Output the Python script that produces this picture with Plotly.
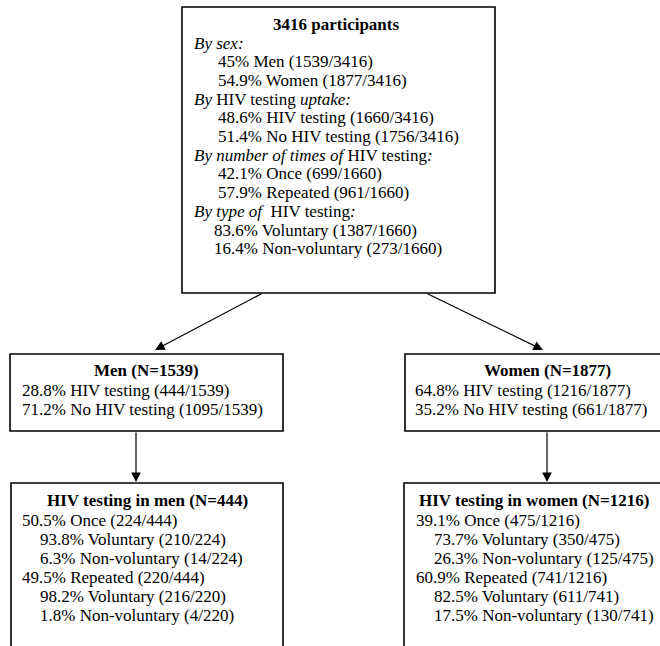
import plotly.graph_objects as go

W, H = 660, 646
FONT = "Liberation Serif"
FS = 17

# ---- data (text of the flow chart) ----
top_title = "3416 participants"
top_lines = [
    ("<i>By sex:</i>", 0),
    ("45% Men (1539/3416)", 1),
    ("54.9% Women (1877/3416)", 1),
    ("<i>By</i> HIV testing <i>uptake:</i>", 0),
    ("48.6% HIV testing (1660/3416)", 1),
    ("51.4% No HIV testing (1756/3416)", 1),
    ("<i>By number of times of</i> HIV testing<i>:</i>", 0),
    ("42.1% Once (699/1660)", 1),
    ("57.9% Repeated (961/1660)", 1),
    ("<i>By type of</i>  HIV testing<i>:</i>", 0),
    ("83.6% Voluntary (1387/1660)", 2),
    ("16.4% Non-voluntary (273/1660)", 2),
]
men_title = "Men (N=1539)"
men_lines = ["28.8% HIV testing (444/1539)", "71.2% No HIV testing (1095/1539)"]
women_title = "Women (N=1877)"
women_lines = ["64.8% HIV testing (1216/1877)", "35.2% No HIV testing (661/1877)"]
men_hiv_title = "HIV testing in men (N=444)"
men_hiv_lines = [
    ("50.5% Once (224/444)", 0),
    ("93.8% Voluntary (210/224)", 1),
    ("6.3% Non-voluntary (14/224)", 1),
    ("49.5% Repeated (220/444)", 0),
    ("98.2% Voluntary (216/220)", 1),
    ("1.8% Non-voluntary (4/220)", 1),
]
women_hiv_title = "HIV testing in women (N=1216)"
women_hiv_lines = [
    ("39.1% Once (475/1216)", 0),
    ("73.7% Voluntary (350/475)", 1),
    ("26.3% Non-voluntary (125/475)", 1),
    ("60.9% Repeated (741/1216)", 0),
    ("82.5% Voluntary (611/741)", 1),
    ("17.5% Non-voluntary (130/741)", 1),
]

# ---- layout geometry ----
boxes = [
    (182, 7, 495, 293),     # top
    (10, 354, 283, 431),    # men
    (405, 354, 700, 431),   # women
    (11, 483, 283, 700),    # men hiv
    (404, 483, 700, 700),   # women hiv
]
arrows = [
    ((263, 293), (155, 350)),
    ((426, 293), (543, 350)),
    ((136, 431), (136, 482)),
    ((547, 431), (547, 482)),
]

fig = go.Figure()
fig.add_trace(go.Scatter(x=[100], y=[100], mode="markers", marker=dict(opacity=0), hoverinfo="skip", showlegend=False))

for (x0, y0, x1, y1) in boxes:
    fig.add_shape(type="rect", x0=x0, y0=y0, x1=x1, y1=y1, xref="x", yref="y",
                  line=dict(color="black", width=1.6), fillcolor="rgba(0,0,0,0)")

anns = []
def txt(x, y, s, anchor="left", bold=False):
    anns.append(dict(x=x, y=y, xref="x", yref="y", text=("<b>%s</b>" % s) if bold else s,
                     showarrow=False, xanchor=anchor, yanchor="middle", borderpad=0,
                     font=dict(family=FONT, size=FS, color="black")))

# top box
txt(336, 24, top_title, "center", True)
indent = {0: 193, 1: 217, 2: 213}
y = 43
for s, lv in top_lines:
    txt(indent[lv], y, s)
    y += 18.7

# men / women boxes
txt(146, 370, men_title, "center", True)
for i, s in enumerate(men_lines):
    txt(21, 390 + 19 * i, s)
txt(547, 370, women_title, "center", True)
for i, s in enumerate(women_lines):
    txt(414, 390 + 19 * i, s)

# lower boxes
txt(147, 500, men_hiv_title, "center", True)
for i, (s, lv) in enumerate(men_hiv_lines):
    txt(21 + 18 * lv, 520 + 19 * i, s)
txt(534, 500, women_hiv_title, "center", True)
for i, (s, lv) in enumerate(women_hiv_lines):
    txt(415 + 18 * lv, 520 + 19 * i, s)

for (sx, sy), (ex, ey) in arrows:
    anns.append(dict(x=ex, y=ey, ax=sx, ay=sy, xref="x", yref="y", axref="x", ayref="y",
                     showarrow=True, arrowhead=2, arrowsize=1.6, arrowwidth=1.2,
                     arrowcolor="black", text=""))

fig.update_layout(
    width=W, height=H, margin=dict(l=0, r=0, t=0, b=0),
    paper_bgcolor="white", plot_bgcolor="white",
    xaxis=dict(range=[0, W], visible=False, fixedrange=True),
    yaxis=dict(range=[H, 0], visible=False, fixedrange=True),
    annotations=anns, showlegend=False,
)
fig.write_html("out.html", post_script="document.body.style.margin='0';",
               config={"displayModeBar": False})
